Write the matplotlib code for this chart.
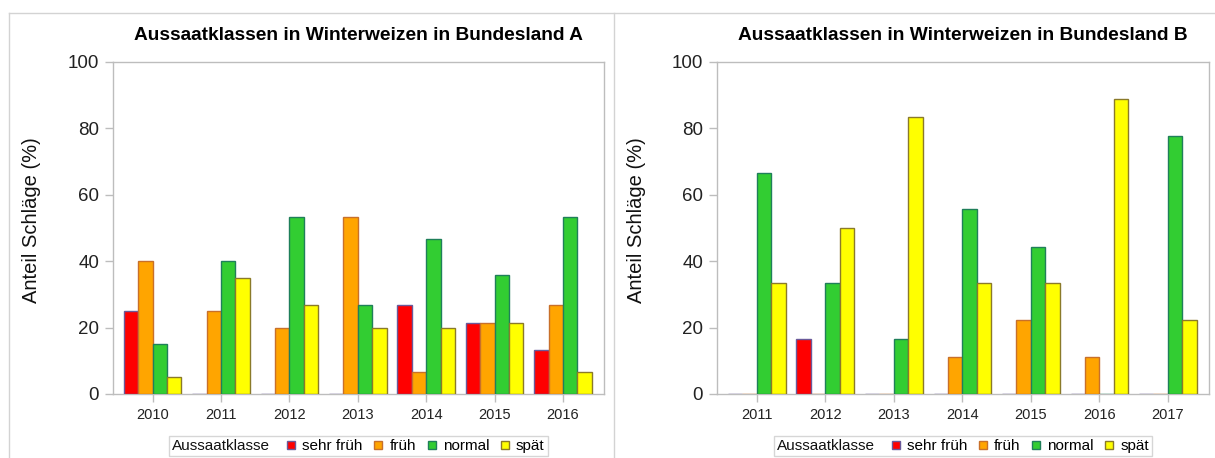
import matplotlib
matplotlib.use("Agg")
import matplotlib.pyplot as plt
from matplotlib.lines import Line2D
from matplotlib.offsetbox import HPacker
import numpy as np

plt.rcParams['font.family'] = ['Liberation Sans', 'DejaVu Sans']

classes = ["sehr früh", "früh", "normal", "spät"]
colors = ["#FF0000", "#FFA500", "#32CD32", "#FFFF00"]
edges = ["#6A5A9A", "#C8702A", "#1F7F5A", "#8A7A2A"]

years_a = ["2010", "2011", "2012", "2013", "2014", "2015", "2016"]
sehr_frueh_a = [25, 0, 0, 0, 26.7, 21.4, 13.3]
frueh_a = [40, 25, 20, 53.3, 6.7, 21.4, 26.7]
normal_a = [15, 40, 53.3, 26.7, 46.7, 35.7, 53.3]
spaet_a = [5, 35, 26.7, 20, 20, 21.4, 6.7]

years_b = ["2011", "2012", "2013", "2014", "2015", "2016", "2017"]
sehr_frueh_b = [0, 16.7, 0, 0, 0, 0, 0]
frueh_b = [0, 0, 0, 11.1, 22.2, 11.1, 0]
normal_b = [66.7, 33.3, 16.7, 55.6, 44.4, 0, 77.8]
spaet_b = [33.3, 50, 83.3, 33.3, 33.3, 88.9, 22.2]

titles = ["Aussaatklassen in Winterweizen in Bundesland A",
          "Aussaatklassen in Winterweizen in Bundesland B"]
ylabel = "Anteil Schläge (%)"
legend_title = "Aussaatklasse"

W, H = 1215, 458
fig = plt.figure(figsize=(W / 100, H / 100), dpi=100)

def fx(px):
    return px / W

def fy(py):
    return 1 - py / H

panels = [
    (years_a, [sehr_frueh_a, frueh_a, normal_a, spaet_a], 113, 604, titles[0], 32),
    (years_b, [sehr_frueh_b, frueh_b, normal_b, spaet_b], 717, 1209, titles[1], 636),
]

spine_col = "#BDBDBD"
bw = 0.21
leg_fs = 11
for years, series, l, r, title, ylx in panels:
    ax = fig.add_axes([fx(l), fy(394), fx(r) - fx(l), fy(62) - fy(394)])
    x = np.arange(len(years))
    for i, vals in enumerate(series):
        ax.bar(x + (i - 1.5) * bw, vals, width=bw, color=colors[i],
               edgecolor=edges[i], linewidth=1.0, zorder=3)
    ax.set_xlim(-0.58, 6.6)
    ax.set_ylim(0, 100)
    ax.set_xticks(x)
    ax.set_xticklabels(years, fontsize=10.5, color="#222222")
    ax.set_yticks([0, 20, 40, 60, 80, 100])
    ax.set_yticklabels(["0", "20", "40", "60", "80", "100"], fontsize=13.5, color="#222222")
    for s in ax.spines.values():
        s.set_color(spine_col)
        s.set_linewidth(1.0)
    ax.tick_params(axis='both', colors=spine_col, length=6, width=1.0, labelcolor="#222222")
    ax.tick_params(axis='x', pad=4)
    ax.tick_params(axis='y', pad=4)
    fig.text(fx(ylx), fy(220), ylabel, rotation=90, ha='center', va='center',
             fontsize=14.5, color="#111111")
    fig.text(fx((l + r) / 2), fy(36), title, ha='center', va='center',
             fontsize=13.75, fontweight='bold', color="#000000")
    handles = [
        Line2D([], [], marker='s', linestyle='none', markersize=6,
               markerfacecolor=colors[i], markeredgecolor=edges[i], markeredgewidth=1.0)
        for i in range(4)]
    leg = fig.legend(handles, classes, loc='center', ncol=4,
                     bbox_to_anchor=(fx((l + r) / 2), fy(446)),
                     fontsize=leg_fs, frameon=True, fancybox=False,
                     handlelength=0.55, handletextpad=0.45, columnspacing=0.75,
                     borderpad=0.2, edgecolor="#CCCCCC",
                     title=legend_title, title_fontsize=leg_fs)
    leg.get_frame().set_linewidth(1.0)
    # place the title to the left of the entries
    fsz = leg._fontsize
    tb = leg._legend_title_box
    hb = leg._legend_handle_box
    newbox = HPacker(pad=leg.borderpad * fsz, sep=1.1 * fsz, align="center",
                     children=[tb, hb])
    newbox.set_figure(fig)
    newbox.axes = leg.axes
    newbox.set_offset(leg._findoffset)
    leg._legend_box = newbox
    leg.get_title().set_color("#111111")

# outer frame lines
frame_col = "#D3D3D3"
fig.add_artist(Line2D([fx(9), fx(9)], [fy(13), 0], color=frame_col, lw=1.0))
fig.add_artist(Line2D([fx(9), 1], [fy(13), fy(13)], color=frame_col, lw=1.0))
fig.add_artist(Line2D([fx(614), fx(614)], [fy(13), 0], color=frame_col, lw=1.0))

fig.savefig("out.png", dpi=100)
